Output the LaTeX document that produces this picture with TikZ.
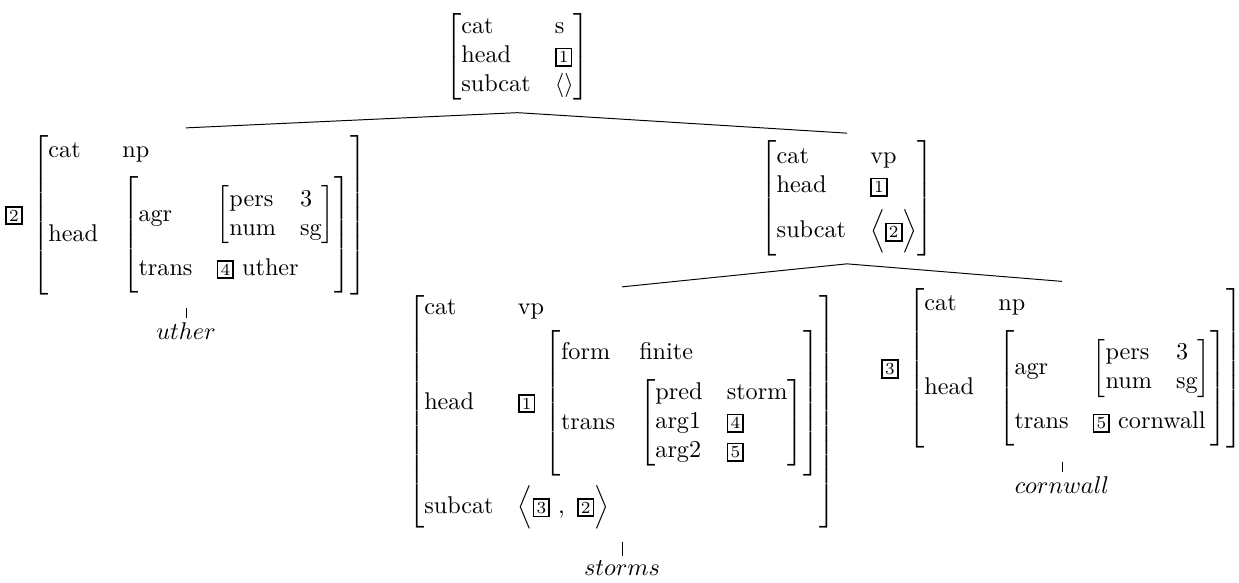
\documentclass[tikz,border=0pt]{standalone}
\usepackage{amsmath}
\setlength{\fboxsep}{0.9pt}
\setlength{\fboxrule}{0.7pt}
\delimiterfactor=950
\delimitershortfall=1pt
% boxed coindexation tag
\newcommand{\tg}[1]{\fbox{\fontsize{7}{8}\selectfont #1}}
% extra space next to a tall row
\newcommand{\xs}[1]{\noalign{\vskip#1}}
% attribute-value matrix; the optional length sets the least bracket height
\newcommand{\fs}[2][0pt]{$\left[\vcenter{\hbox{\vrule height#1 width0pt}}%
  \begin{tabular}{@{}l@{\hspace{10pt}}l@{}}#2\end{tabular}\right]$}
\begin{document}
\begin{tikzpicture}[x=0.4132pt, y=-0.4132pt,
  avm/.style={inner sep=0pt, outer xsep=0pt, outer ysep=3pt},
  leaf/.style={inner sep=0pt, outer ysep=2pt, anchor=base},
  tick/.style={shorten <=2.5pt}]
\useasboundingbox (0,0) rectangle (1239,582);

% sentence
\node[avm, outer ysep=5pt] (s) at (517.5,57)
  {\fs[35.5pt]{cat & s\\ head & \tg{1}\\ subcat & $\langle\rangle$}};

% subject np
\node[avm] (np1) at (186,215)
  {\tg{2}\hspace{4pt}\fs[65.5pt]{cat & np\\ \xs{4.5pt}
     head & \fs[47.5pt]{agr & \fs[23.5pt]{pers & 3\\ num & sg}\\ \xs{4.5pt}
                        trans & \tg{4} uther}}};

% verb phrase
\node[avm] (vp1) at (847,198.5)
  {\fs[47.5pt]{cat & vp\\ head & \tg{1}\\ \xs{3.5pt}
     subcat & $\Big\langle\tg{2}\Big\rangle$}};

% verb
\node[avm] (vp2) at (622,411.5)
  {\fs[95.5pt]{cat & vp\\ \xs{3pt}
     head & \tg{1}\hspace{4pt}\fs[59.5pt]{form & finite\\ \xs{4.5pt}
        trans & \fs[35.5pt]{pred & storm\\ arg1 & \tg{4}\\ arg2 & \tg{5}}}\\ \xs{4pt}
     subcat & $\Big\langle\tg{3}\ ,\ \tg{2}\Big\rangle$}};

% object np
\node[avm] (np2) at (1062,368.5)
  {\tg{3}\hspace{4pt}\fs[65.5pt]{cat & np\\ \xs{4.5pt}
     head & \fs[47.5pt]{agr & \fs[23.5pt]{pers & 3\\ num & sg}\\ \xs{4.5pt}
                        trans & \tg{5} cornwall}}};

% words
\node[leaf] (w1) at ([yshift=-15.6pt]np1.south) {$uther$};
\node[leaf] (w2) at ([yshift=-16.2pt]vp2.south) {$storms$};
\node[leaf] (w3) at ([yshift=-15.6pt]np2.south) {$cornwall$};

% branches
\draw (s.south) -- (np1.north);
\draw (s.south) -- (vp1.north);
\draw (vp1.south) -- (vp2.north);
\draw (vp1.south) -- (np2.north);
\draw[tick] (np1.south) -- (w1.north);
\draw[tick] (vp2.south) -- (w2.north);
\draw[tick] (np2.south) -- (w3.north);
\end{tikzpicture}
\end{document}
